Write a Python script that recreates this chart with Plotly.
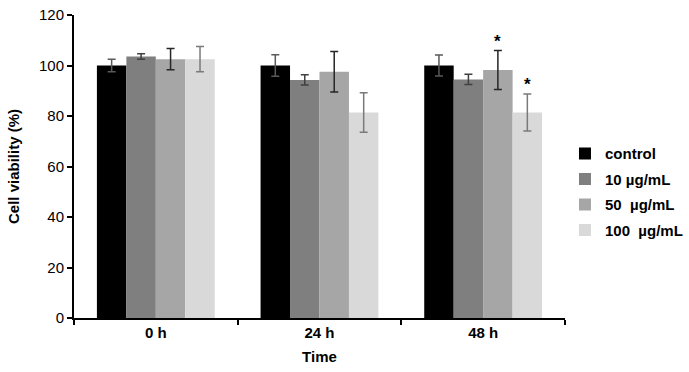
import plotly.graph_objects as go

categories = ["0 h", "24 h", "48 h"]
series_names = ["control", "10 µg/mL", "50 \u00a0µg/mL", "100 \u00a0µg/mL"]
control_vals = [100.0, 100.0, 100.0]
control_err = [2.5, 4.3, 4.2]
c10_vals = [103.6, 94.3, 94.5]
c10_err = [1.1, 2.0, 2.0]
c50_vals = [102.5, 97.5, 98.2]
c50_err = [4.2, 8.0, 7.7]
c100_vals = [102.5, 81.4, 81.4]
c100_err = [5.0, 7.8, 7.3]
y_ticks = [0, 20, 40, 60, 80, 100, 120]
star_series = [2, 3]  # indices of series marked with * at 48 h
star_category = 2

values = [control_vals, c10_vals, c50_vals, c100_vals]
errors = [control_err, c10_err, c50_err, c100_err]
bar_colors = ["#000000", "#7f7f7f", "#a6a6a6", "#d9d9d9"]
err_colors = ["#5a5a5a", "#404040", "#262626", "#7a7a7a"]

FONT = "Liberation Sans, Arial, sans-serif"
BARGAP = 0.28
FS = 15

fig = go.Figure()
for i, name in enumerate(series_names):
    fig.add_trace(go.Bar(
        x=categories, y=values[i], name="<b>" + name + "</b>",
        marker=dict(color=bar_colors[i], line=dict(width=0)),
        error_y=dict(type="data", array=errors[i], visible=True,
                     color=err_colors[i], thickness=1.5, width=4),
        legendgroup=str(i),
    ))

w = (1 - BARGAP) / len(series_names)
for s in star_series:
    xpos = star_category + (s - (len(series_names) - 1) / 2) * w
    fig.add_annotation(x=xpos, y=values[s][star_category] + errors[s][star_category],
                       xref="x", yref="y", text="<b>*</b>", showarrow=False,
                       yanchor="bottom", yshift=-2,
                       font=dict(family=FONT, size=17, color="#000000"))

fig.update_layout(
    width=689, height=372,
    margin=dict(l=74, r=120, t=15, b=54),
    paper_bgcolor="white", plot_bgcolor="white",
    barmode="group", bargap=BARGAP, bargroupgap=0,
    font=dict(family=FONT, size=FS, color="#000000"),
    legend=dict(xref="container", yref="container", x=0.82, y=0.4847,
                xanchor="left", yanchor="middle",
                font=dict(family=FONT, size=FS, color="#000000"),
                tracegroupgap=3, itemwidth=30, bgcolor="rgba(0,0,0,0)"),
    showlegend=True,
)
fig.update_xaxes(
    type="category", showline=True, linecolor="#000000", linewidth=2,
    ticks="outside", tickson="boundaries", ticklen=5, tickwidth=1.5, tickcolor="#000000",
    tickfont=dict(family=FONT, size=FS, color="#000000"),
    tickprefix="<b>", ticksuffix="</b>", automargin=False,
    title=dict(text="<b>Time</b>", font=dict(family=FONT, size=FS), standoff=11),
    showgrid=False, zeroline=False,
)
fig.update_yaxes(
    range=[0, 120], tickvals=y_ticks, showline=True, linecolor="#000000", linewidth=2,
    ticks="outside", ticklen=5, tickwidth=1.5, tickcolor="#000000",
    tickfont=dict(family=FONT, size=FS, color="#000000"),
    tickprefix="<b>", ticksuffix="</b>", automargin=False,
    title=dict(text="<b>Cell viability (%)</b>", font=dict(family=FONT, size=FS), standoff=16),
    showgrid=False, zeroline=False,
)

fig.write_html("out.html", config={"displayModeBar": False},
               post_script="document.body.style.margin='0';")
